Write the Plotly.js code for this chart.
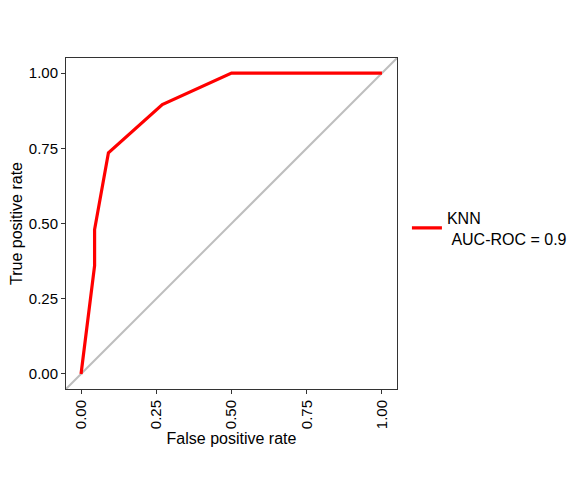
<!DOCTYPE html>
<html>
<head>
<meta charset="utf-8">
<script src="https://cdn.plot.ly/plotly-3.0.1.min.js"></script>
<style>html,body{margin:0;padding:0;background:#fff;}#chart{width:587px;height:484px;}</style>
</head>
<body>
<div id="chart"></div>
<script>
// ROC curve data
const fpr = [0, 0.045, 0.045, 0.091, 0.27, 0.5, 1.0];
const tpr = [0, 0.36, 0.48, 0.735, 0.895, 1.0, 1.0];
const refX = [-0.05, 1.05];
const refY = [-0.05, 1.05];
const tickVals = [0, 0.25, 0.5, 0.75, 1];
const tickText = ["0.00", "0.25", "0.50", "0.75", "1.00"];
const seriesName = "KNN<br>\u00a0AUC-ROC = 0.9";

const traces = [
  {x: refX, y: refY, mode: "lines", line: {color: "#BEBEBE", width: 2}, showlegend: false, hoverinfo: "skip"},
  {x: fpr, y: tpr, mode: "lines", name: seriesName, line: {color: "#FF0000", width: 3.2}}
];

const axisCommon = {
  range: [-0.05, 1.05], tickvals: tickVals, ticktext: tickText,
  ticks: "outside", ticklen: 4, tickwidth: 1, tickcolor: "#333333",
  showgrid: false, zeroline: false, showline: true, mirror: true,
  linecolor: "#333333", linewidth: 1,
  tickfont: {family: "Liberation Sans, Arial, sans-serif", size: 15, color: "#000000"}
};

const layout = {
  width: 587, height: 484,
  margin: {l: 66, r: 190, t: 58, b: 95},
  paper_bgcolor: "#ffffff", plot_bgcolor: "#ffffff",
  font: {family: "Liberation Sans, Arial, sans-serif", size: 15, color: "#000000"},
  xaxis: Object.assign({}, axisCommon, {tickangle: -90,
    title: {text: "False positive rate", standoff: 4, font: {size: 16, color: "#000000"}}}),
  yaxis: Object.assign({}, axisCommon, {
    title: {text: "True positive rate", standoff: 2, font: {size: 16, color: "#000000"}}}),
  showlegend: true,
  legend: {x: 1.03, xanchor: "left", y: 0.486, yanchor: "middle",
    font: {size: 16, color: "#000000"}, bgcolor: "rgba(0,0,0,0)", itemwidth: 30}
};

Plotly.newPlot("chart", traces, layout, {displayModeBar: false, staticPlot: true});
</script>
</body>
</html>
